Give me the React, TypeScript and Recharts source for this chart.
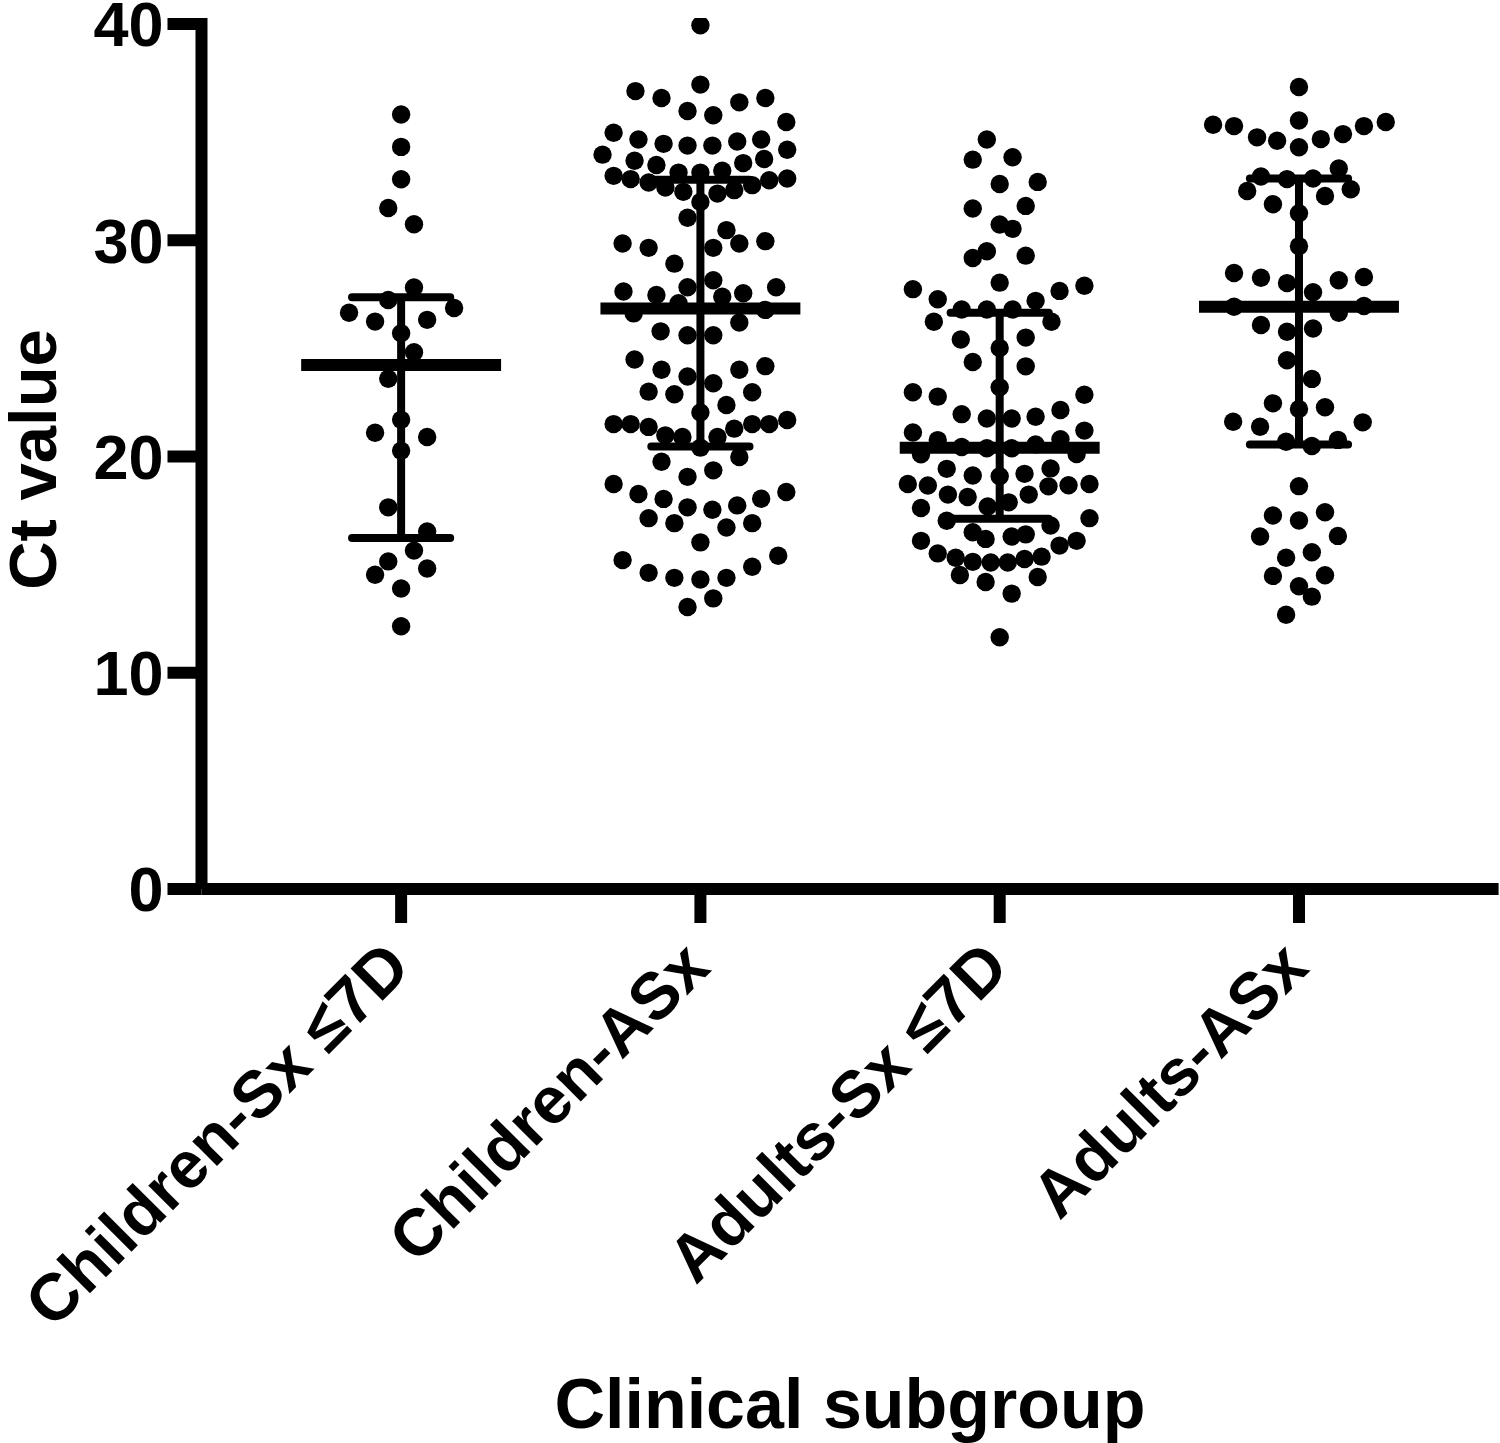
import { ScatterChart, Scatter, XAxis, YAxis, ReferenceLine, Label } from "recharts";

const FONT = "'Liberation Sans', Arial, Helvetica, sans-serif";

const groups = ["Children-Sx \u22647D", "Children-ASx", "Adults-Sx \u22647D", "Adults-ASx"];
const groupTicks = [1, 2, 3, 4];
const ctTicks = [0, 10, 20, 30, 40];

// each point: [Ct value, horizontal swarm offset in category units]
const childrenSx: [number, number][] = [
  [35.82, 0], [34.32, 0], [32.82, 0], [31.49, -0.043], [30.74, 0.043], [27.82, 0.043], [27.24, -0.043],
  [26.65, -0.174], [26.24, -0.087], [26.32, 0.087], [26.87, 0.177], [25.7, 0], [24.82, 0.043], [23.6, -0.043],
  [21.7, 0], [21.1, -0.087], [20.9, 0.087], [20.27, 0], [17.65, -0.043], [16.53, 0.087], [15.65, 0.043],
  [15.15, -0.043], [14.82, 0.087], [14.53, -0.087], [13.9, 0], [12.15, 0],
];

const childrenASx: [number, number][] = [
  [39.94, 0], [37.2, 0], [36.9, -0.217], [36.58, -0.13], [35.98, -0.043], [35.78, 0.043], [36.38, 0.13], [36.58, 0.217], [35.47, 0.287],
  [34.97, -0.29], [34.66, -0.207], [34.46, -0.123], [34.38, -0.043], [34.38, 0.04], [34.57, 0.123], [34.66, 0.203], [34.19, 0.29],
  [33.96, -0.327], [33.68, -0.22], [33.48, -0.147], [33.57, 0.143], [33.76, 0.213],
  [32.98, -0.29], [32.83, -0.233], [32.67, -0.173], [32.44, -0.117], [33.13, -0.073], [33.13, 0], [33.22, 0.073],
  [32.24, -0.057], [32.16, 0.057], [32.32, 0.113], [32.55, 0.173], [32.78, 0.23], [32.86, 0.29],
  [31.77, 0], [31.04, -0.043], [30.47, 0.087],
  [29.85, -0.26], [29.65, -0.173], [29.65, 0.043], [29.85, 0.13], [29.96, 0.217],
  [28.92, -0.087], [28.15, 0.043], [27.83, -0.043], [27.63, -0.257], [27.47, -0.147], [27.39, 0.073], [27.55, 0.143], [27.83, 0.253], [27.09, -0.073],
  [26.62, -0.223], [26.78, 0.217], [25.79, -0.133], [25.61, -0.043], [25.61, 0.043], [26.2, 0.13],
  [24.49, -0.22], [24.01, -0.13], [23.7, -0.043], [23.39, 0.043], [24.01, 0.13], [24.18, 0.217],
  [23.0, -0.173], [22.88, -0.087], [22.97, 0.173], [22.38, 0.087], [22.04, 0],
  [21.5, -0.29], [21.5, -0.233], [21.37, -0.173], [20.98, -0.117], [20.9, -0.06], [20.9, 0.057], [21.29, 0.113], [21.5, 0.173], [21.5, 0.23], [21.69, 0.29],
  [20.41, 0], [19.76, -0.13], [19.98, 0.13], [19.36, 0.043], [19.06, -0.043],
  [18.73, -0.29], [18.27, -0.207], [18.04, -0.123], [17.65, -0.043], [17.54, 0.04], [17.74, 0.123], [18.05, 0.203], [18.36, 0.287],
  [17.15, -0.173], [16.92, -0.087], [16.72, 0.087], [16.92, 0.173], [16.03, 0],
  [15.21, -0.26], [14.62, -0.173], [14.39, -0.087], [14.31, 0], [14.39, 0.087], [14.9, 0.173], [15.41, 0.26],
  [13.04, -0.043], [13.44, 0.043],
];

const adultsSx: [number, number][] = [
  [34.66, -0.043], [33.73, -0.09], [33.84, 0.043], [32.6, 0], [32.7, 0.127], [31.47, -0.09], [31.59, 0.087], [30.73, 0],
  [30.53, 0.043], [29.49, -0.043], [29.18, -0.09], [29.29, 0.087], [28.04, 0],
  [27.74, -0.29], [27.27, -0.207], [27.66, 0.2], [27.9, 0.283], [27.2, 0.12],
  [26.8, -0.127], [26.8, -0.043], [26.8, 0.043], [26.23, -0.22], [26.23, 0.173], [25.41, -0.13], [25.5, 0.087], [25.02, 0],
  [24.37, -0.09], [24.17, 0.087],
  [23.2, 0], [22.97, -0.29], [22.77, -0.207], [22.86, 0.283], [21.96, -0.127], [21.76, -0.043], [21.76, 0.04], [21.84, 0.12], [22.15, 0.203],
  [21.11, -0.29], [20.76, -0.207], [21.2, 0.283], [20.44, -0.127], [20.38, -0.043], [20.38, 0.04], [20.56, 0.12], [20.8, 0.203],
  [20.1, -0.263], [20.12, 0.257],
  [19.43, -0.177], [19.12, -0.09], [19.09, 0], [19.2, 0.083], [19.45, 0.17],
  [18.73, -0.307], [18.66, -0.24], [18.24, -0.173], [18.13, -0.107], [18.24, 0.097], [18.62, 0.163], [18.67, 0.23], [18.73, 0.3],
  [17.69, -0.04], [17.88, 0.03], [17.62, -0.263], [17.03, -0.177], [17.15, 0.3], [16.81, 0.17],
  [16.5, -0.09], [16.19, -0.047], [16.3, 0.04], [16.4, 0.087], [16.1, -0.263], [16.1, 0.257], [15.88, 0.2],
  [15.52, -0.207], [15.32, -0.147], [15.13, -0.09], [15.1, -0.03], [15.1, 0.027], [15.26, 0.083], [15.37, 0.14],
  [14.52, -0.133], [14.2, -0.047], [14.43, 0.127], [13.66, 0.04], [11.64, 0],
];

const adultsASx: [number, number][] = [
  [37.09, 0], [35.34, -0.287], [35.28, -0.217], [35.54, 0], [34.76, -0.14], [34.6, -0.073], [34.3, 0], [34.68, 0.073],
  [34.91, 0.147], [35.28, 0.217], [35.47, 0.29],
  [33.32, 0.133], [32.95, -0.127], [32.83, -0.04], [32.86, 0.047], [32.28, -0.173], [32.36, 0.173], [31.67, -0.087],
  [32.05, 0.087], [31.25, 0], [29.73, 0],
  [28.49, -0.217], [28.27, -0.127], [28.02, -0.04], [28.15, 0.133], [28.3, 0.217], [27.6, 0.047],
  [26.93, -0.217], [26.96, 0.217], [26.65, 0.133], [26.08, -0.127], [25.77, -0.04], [25.92, 0.047], [24.45, -0.04],
  [23.59, 0.043], [22.46, -0.087], [22.2, 0], [22.28, 0.087], [21.61, -0.22], [21.38, -0.13], [21.58, 0.213],
  [20.68, -0.043], [20.49, 0.043], [20.77, 0.13],
  [18.63, 0], [17.27, -0.087], [17.04, 0], [17.42, 0.087], [16.3, -0.13], [16.33, 0.13], [15.32, -0.043], [15.57, 0.043],
  [14.48, -0.087], [14.51, 0.087], [14.0, 0], [13.52, 0.043], [12.68, -0.043],
];

const series = [childrenSx, childrenASx, adultsSx, adultsASx];

// median with interquartile range
const medians = [24.23, 26.84, 20.41, 26.93];
const q1 = [16.23, 20.46, 17.12, 20.56];
const q3 = [27.37, 32.8, 26.65, 32.86];

const MEDIAN_HALF = 0.334;
const CAP_HALF = 0.164;

function Dot(props: any) {
  return <circle cx={props.cx} cy={props.cy} r={9.2} fill="#000" />;
}

function GroupTick(props: any) {
  const { x, y, payload } = props;
  const ax = x + 12;
  const ay = y + 45;
  return (
    <text
      x={ax}
      y={ay}
      transform={`rotate(-45 ${ax} ${ay})`}
      textAnchor="end"
      fontSize={66}
      fontWeight={700}
      fontFamily={FONT}
      fill="#000"
    >
      {groups[payload.value - 1]}
    </text>
  );
}

export default function App() {
  return (
    <div style={{ position: "absolute", left: 0, top: 0, width: 1500, height: 1443, background: "#fff" }}>
      <ScatterChart width={1500} height={1443} margin={{ top: 18, right: 1.4, bottom: 0, left: 0 }}>
        <XAxis
          type="number"
          dataKey="x"
          domain={[0.333, 4.667]}
          allowDataOverflow
          ticks={groupTicks}
          interval={0}
          height={554}
          axisLine={{ stroke: "#000", strokeWidth: 12 }}
          tickLine={{ stroke: "#000", strokeWidth: 12 }}
          tickSize={34}
          tick={<GroupTick />}
        >
          <Label
            content={(p: any) => {
              const vb = p.viewBox;
              return (
                <text
                  x={vb.x + vb.width / 2}
                  y={vb.y + 539}
                  textAnchor="middle"
                  fontSize={70}
                  fontWeight={700}
                  fontFamily={FONT}
                  fill="#000"
                >
                  Clinical subgroup
                </text>
              );
            }}
          />
        </XAxis>
        <YAxis
          type="number"
          dataKey="y"
          domain={[0, 40.28]}
          allowDataOverflow
          ticks={ctTicks}
          interval={0}
          width={201.5}
          axisLine={{ stroke: "#000", strokeWidth: 12 }}
          tickLine={{ stroke: "#000", strokeWidth: 12 }}
          tickSize={34}
          tickMargin={4}
          tick={{ fontSize: 63, fontWeight: 700, fill: "#000", fontFamily: FONT }}
        >
          <Label
            content={(p: any) => {
              const vb = p.viewBox;
              const cx = 56;
              const cy = vb.y + vb.height / 2 + 6;
              return (
                <text
                  x={cx}
                  y={cy}
                  transform={`rotate(-90 ${cx} ${cy})`}
                  textAnchor="middle"
                  fontSize={67}
                  fontWeight={700}
                  fontFamily={FONT}
                  fill="#000"
                >
                  Ct value
                </text>
              );
            }}
          />
        </YAxis>
        {series.map((pts, g) => (
          <Scatter
            key={groups[g]}
            name={groups[g]}
            data={pts.map(([ct, off]) => ({ x: g + 1 + off, y: ct }))}
            shape={<Dot />}
            isAnimationActive={false}
          />
        ))}
        {groups.map((name, g) => (
          <ReferenceLine
            key={`v-${name}`}
            segment={[{ x: g + 1, y: q1[g] }, { x: g + 1, y: q3[g] }]}
            stroke="#000"
            strokeWidth={8}
            ifOverflow="visible"
          />
        ))}
        {groups.map((name, g) => (
          <ReferenceLine
            key={`q3-${name}`}
            segment={[{ x: g + 1 - CAP_HALF, y: q3[g] }, { x: g + 1 + CAP_HALF, y: q3[g] }]}
            stroke="#000"
            strokeWidth={8}
            strokeLinecap="round"
            ifOverflow="visible"
          />
        ))}
        {groups.map((name, g) => (
          <ReferenceLine
            key={`q1-${name}`}
            segment={[{ x: g + 1 - CAP_HALF, y: q1[g] }, { x: g + 1 + CAP_HALF, y: q1[g] }]}
            stroke="#000"
            strokeWidth={8}
            strokeLinecap="round"
            ifOverflow="visible"
          />
        ))}
        {groups.map((name, g) => (
          <ReferenceLine
            key={`m-${name}`}
            segment={[{ x: g + 1 - MEDIAN_HALF, y: medians[g] }, { x: g + 1 + MEDIAN_HALF, y: medians[g] }]}
            stroke="#000"
            strokeWidth={12}
            ifOverflow="visible"
          />
        ))}
      </ScatterChart>
    </div>
  );
}
